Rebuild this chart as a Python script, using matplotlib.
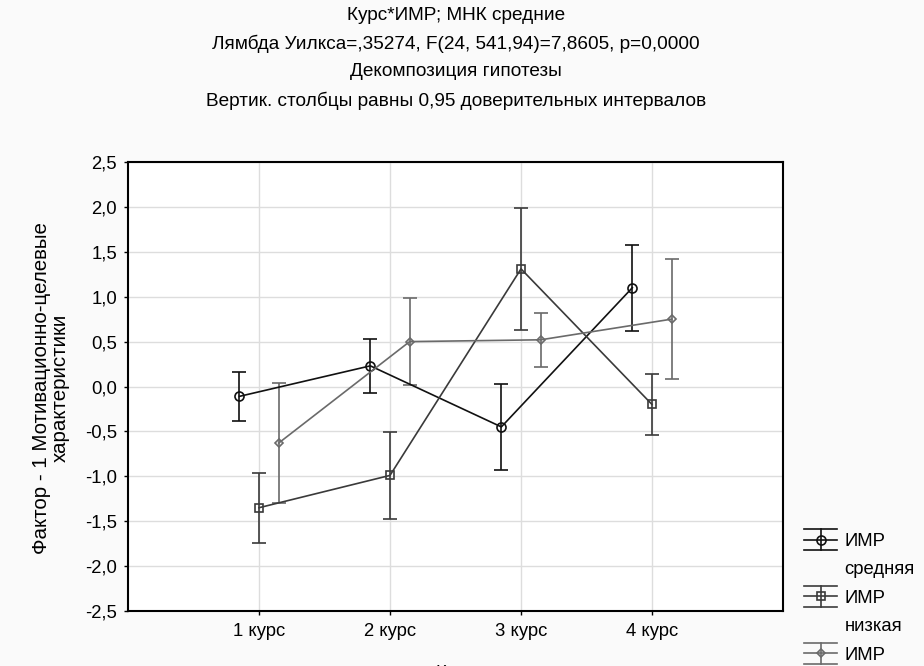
import matplotlib
matplotlib.use("Agg")
import matplotlib.pyplot as plt
from matplotlib.lines import Line2D
from matplotlib.legend_handler import HandlerBase
import numpy as np

plt.rcParams['font.family'] = ['Liberation Sans', 'DejaVu Sans']

courses = ["1 курс", "2 курс", "3 курс", "4 курс"]
series_names = ["ИМР средняя", "ИМР низкая", "ИМР высокая"]
mean_mid = [-0.11, 0.23, -0.45, 1.10]
ci_mid = [0.27, 0.30, 0.48, 0.48]
mean_low = [-1.35, -0.99, 1.31, -0.20]
ci_low = [0.39, 0.48, 0.68, 0.34]
mean_high = [-0.63, 0.50, 0.52, 0.75]
ci_high = [0.67, 0.48, 0.30, 0.67]

titles = ["Курс*ИМР; МНК средние",
          "Лямбда Уилкса=,35274, F(24, 541,94)=7,8605, p=0,0000",
          "Декомпозиция гипотезы",
          "Вертик. столбцы равны 0,95 доверительных интервалов"]

FS = 13.3
W, H = 924, 666
fig = plt.figure(figsize=(W / 100, H / 100), dpi=100, facecolor='#fafafa')
ax = fig.add_axes([128 / W, (H - 611) / H, (783 - 128) / W, (611 - 162) / H])
ax.set_facecolor('white')

x = np.arange(1, len(courses) + 1)
styles = [
    (mean_mid, ci_mid, -0.15, 'o', '#111111', 6.5),
    (mean_low, ci_low, 0.0, 's', '#3a3a3a', 6.0),
    (mean_high, ci_high, 0.15, 'D', '#6a6a6a', 4.5),
]
handles = []
for (m, c, off, mk, col, ms) in styles:
    h = ax.errorbar(x + off, m, yerr=c, color=col, ecolor=col, marker=mk,
                    markersize=ms, markerfacecolor='none', markeredgecolor=col,
                    markeredgewidth=1.2, linewidth=1.2, elinewidth=1.2,
                    capsize=4.7, capthick=1.2, zorder=3)
    handles.append(h)

ax.set_xlim(0, 5)
ax.set_ylim(-2.5, 2.5)
ax.set_xticks(x)
ax.set_xticklabels(courses, fontsize=FS)
yt = np.arange(-2.5, 2.51, 0.5)
ax.set_yticks(yt)
ax.set_yticklabels([f"{v:.1f}".replace('.', ',') for v in yt], fontsize=FS)
ax.grid(True, color='#dddddd', linewidth=1.0, zorder=0)
ax.set_axisbelow(True)
for s in ax.spines.values():
    s.set_linewidth(1.5)
    s.set_color('black')
ax.tick_params(axis='x', length=3, width=1, direction='out', pad=6)
ax.tick_params(axis='y', length=3, width=1, direction='out', pad=5)

ty = [15, 44, 72, 101]
for t, yy in zip(titles, ty):
    fig.text(456 / W, 1 - yy / H, t, ha='center', va='center', fontsize=13.7)

fig.text(51 / W, 1 - 388 / H, "Фактор - 1 Мотивационно-целевые\nхарактеристики",
         rotation=90, ha='center', va='center', fontsize=14.8, linespacing=1.0)
fig.text(455 / W, 1 - 673 / H, "Курс", ha='center', va='center', fontsize=FS)


class ErrHandler(HandlerBase):
    def create_artists(self, legend, orig_handle, xdescent, ydescent, width,
                       height, fontsize, trans):
        line = orig_handle.lines[0]
        col = line.get_color()
        cy = height / 2 - ydescent
        dy = 0.55 * fontsize
        arts = []
        for yy in (cy - dy, cy, cy + dy):
            arts.append(Line2D([-xdescent, -xdescent + width], [yy, yy],
                               color=col, lw=1.2))
        arts.append(Line2D([-xdescent + width / 2] * 2, [cy - dy, cy + dy],
                           color=col, lw=1.2))
        arts.append(Line2D([-xdescent + width / 2], [cy], marker=line.get_marker(),
                           markersize=line.get_markersize(), markerfacecolor='none',
                           markeredgecolor=col, markeredgewidth=1.2, linestyle='none'))
        for a in arts:
            a.set_transform(trans)
        return arts


class BlankHandler(HandlerBase):
    def create_artists(self, legend, orig_handle, xdescent, ydescent, width,
                       height, fontsize, trans):
        a = Line2D([], [], linestyle='none')
        a.set_transform(trans)
        return [a]


blank = Line2D([], [], linestyle='none')
leg_handles = []
leg_labels = []
for h, name in zip(handles, series_names):
    a, b = name.split(' ')
    leg_handles += [h, blank]
    leg_labels += [a, b]
hmap = {h: ErrHandler() for h in handles}
hmap[blank] = BlankHandler()
leg = fig.legend(leg_handles, leg_labels, loc='upper left',
                 bbox_to_anchor=(804 / W, 1 - 533 / H), frameon=False,
                 fontsize=FS, labelspacing=0.62, handlelength=1.8,
                 handletextpad=0.4, borderaxespad=0, borderpad=0,
                 handler_map=hmap)

fig.savefig("out.png", dpi=100, facecolor=fig.get_facecolor())
